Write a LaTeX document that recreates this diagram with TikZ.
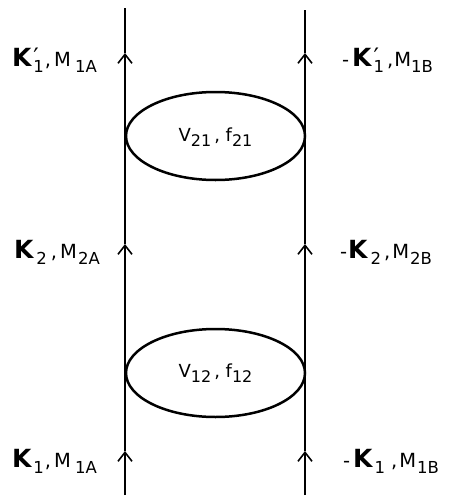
\documentclass[tikz,border=0pt]{standalone}
\usepackage{fontspec}
\setmainfont{DejaVu Sans}
\usetikzlibrary{shapes.geometric,arrows.meta}
\newcommand\lsub[1]{\raisebox{-6pt}{\fontsize{16.5}{16.5}\selectfont #1}}
\newcommand\esub[1]{\raisebox{-5pt}{\fontsize{16}{16}\selectfont #1}}
\newcommand\bigK{{\fontsize{25}{25}\selectfont\bfseries K}}
\newcommand\Kprime[1]{\bigK\hspace{2pt}\rlap{\raisebox{1pt}{\fontsize{24}{24}\selectfont ′}}\lsub{#1}}
\newcommand\hs[1]{\hspace{#1pt}}
\begin{document}
\begin{tikzpicture}[x=1pt,y=-1pt,
  wire/.style={line width=1.5pt},
  flow/.style={line width=1.5pt,-{Straight Barb[length=9pt,width=14pt,line width=1.6pt]}},
  blob/.style={ellipse,draw,line width=2.5pt,minimum width=179pt,minimum height=88pt,inner sep=0pt},
  lab/.style={font=\fontsize{19.5}{19.5}\selectfont,inner sep=0pt},
  vlab/.style={font=\fontsize{18}{18}\selectfont,inner sep=0pt}]
\useasboundingbox (0,0) rectangle (449,498);
% line coordinates
\coordinate (LT) at (125,8);
\coordinate (LB) at (125,495);
\coordinate (RT) at (305,10);
\coordinate (RB) at (305,495);
\coordinate (L1) at (125,53);
\coordinate (L2) at (125,244);
\coordinate (L3) at (125,451);
\coordinate (R1) at (305,53);
\coordinate (R2) at (305,244);
\coordinate (R3) at (305,451);
% lines with arrows
\draw[flow] (LB) -- (L3);
\draw[flow] (L3) -- (L2);
\draw[flow] (L2) -- (L1);
\draw[wire] (L1) -- (LT);
\draw[flow] (RB) -- (R3);
\draw[flow] (R3) -- (R2);
\draw[flow] (R2) -- (R1);
\draw[wire] (R1) -- (RT);
% ellipses
\node[blob,fill=white] (E21) at (215.5,136) {};
\node[vlab] (T21) at (215.5,137) {V\esub{21}\,, f\esub{21}};
\node[blob,fill=white] (E12) at (215.5,373) {};
\node[vlab] (T12) at (215.5,373) {V\esub{12}\,, f\esub{12}};
% labels
\node[lab,anchor=base east] (A1p) at (97,66) {\Kprime{1}\hs{1},\hs{3}M\hs{4}\lsub{1A}};
\node[lab,anchor=base west] (B1p) at (342,66) {-\hs{3}\Kprime{1}\hs{3},\hs{1}M\lsub{1B}};
\node[lab,anchor=base east] (A2) at (100,258) {\bigK\hs{3}\lsub{2}\hs{4},\hs{3}M\hs{1}\lsub{2A}};
\node[lab,anchor=base west] (B2) at (340,258) {-\hs{1}\bigK\hs{3}\lsub{2}\hs{3},\hs{2}M\hs{1}\lsub{2B}};
\node[lab,anchor=base east] (A1) at (97,467) {\bigK\hs{2}\lsub{1}\hs{1},\hs{3}M\hs{4}\lsub{1A}};
\node[lab,anchor=base west] (B1) at (343,467) {-\hs{3}\bigK\hs{2}\lsub{1}\hs{6},\hs{2}M\hs{1}\lsub{1B}};
\end{tikzpicture}
\end{document}
